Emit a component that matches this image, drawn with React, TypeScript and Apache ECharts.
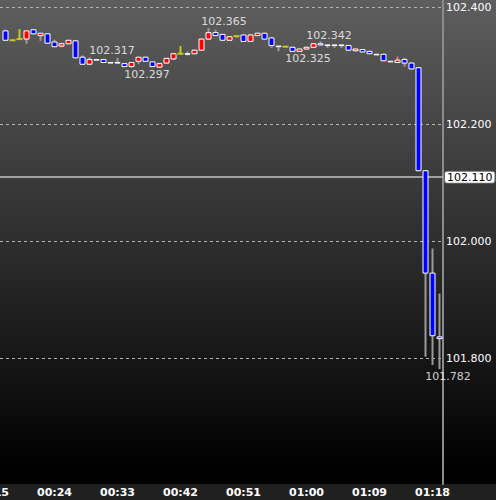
import React, { useEffect, useRef } from "react";
import * as echarts from "echarts";

const times = [
  "00:15", "00:16", "00:17", "00:18", "00:19", "00:20", "00:21", "00:22", "00:23", "00:24",
  "00:25", "00:26", "00:27", "00:28", "00:29", "00:30", "00:31", "00:32", "00:33", "00:34",
  "00:35", "00:36", "00:37", "00:38", "00:39", "00:40", "00:41", "00:42", "00:43", "00:44",
  "00:45", "00:46", "00:47", "00:48", "00:49", "00:50", "00:51", "00:52", "00:53", "00:54",
  "00:55", "00:56", "00:57", "00:58", "00:59", "01:00", "01:01", "01:02", "01:03", "01:04",
  "01:05", "01:06", "01:07", "01:08", "01:09", "01:10", "01:11", "01:12", "01:13", "01:14",
  "01:15", "01:16", "01:17", "01:18", "01:19",
];

// [time, open, close, low, high]
const candles: [string, number, number, number, number][] = [
  ["00:17", 102.36, 102.344, 102.343, 102.362],
  ["00:18", 102.344, 102.344, 102.343, 102.345],
  ["00:19", 102.346, 102.346, 102.345, 102.363],
  ["00:20", 102.346, 102.36, 102.338, 102.36],
  ["00:21", 102.362, 102.355, 102.354, 102.362],
  ["00:22", 102.352, 102.356, 102.343, 102.356],
  ["00:23", 102.355, 102.339, 102.338, 102.355],
  ["00:24", 102.341, 102.333, 102.332, 102.345],
  ["00:25", 102.334, 102.338, 102.332, 102.34],
  ["00:26", 102.338, 102.344, 102.337, 102.344],
  ["00:27", 102.343, 102.314, 102.313, 102.344],
  ["00:28", 102.315, 102.303, 102.302, 102.318],
  ["00:29", 102.303, 102.311, 102.302, 102.315],
  ["00:30", 102.31, 102.311, 102.31, 102.311],
  ["00:31", 102.311, 102.306, 102.305, 102.312],
  ["00:32", 102.306, 102.305, 102.305, 102.306],
  ["00:33", 102.306, 102.305, 102.304, 102.314],
  ["00:34", 102.304, 102.299, 102.298, 102.305],
  ["00:35", 102.299, 102.306, 102.297, 102.307],
  ["00:36", 102.308, 102.315, 102.303, 102.315],
  ["00:37", 102.315, 102.308, 102.307, 102.316],
  ["00:38", 102.307, 102.299, 102.298, 102.308],
  ["00:39", 102.298, 102.304, 102.297, 102.305],
  ["00:40", 102.305, 102.313, 102.304, 102.314],
  ["00:41", 102.312, 102.321, 102.311, 102.322],
  ["00:42", 102.321, 102.321, 102.32, 102.334],
  ["00:43", 102.321, 102.32, 102.318, 102.325],
  ["00:44", 102.321, 102.327, 102.32, 102.328],
  ["00:45", 102.327, 102.346, 102.326, 102.347],
  ["00:46", 102.346, 102.357, 102.345, 102.365],
  ["00:47", 102.357, 102.352, 102.351, 102.362],
  ["00:48", 102.354, 102.344, 102.343, 102.355],
  ["00:49", 102.344, 102.35, 102.343, 102.351],
  ["00:50", 102.351, 102.351, 102.349, 102.351],
  ["00:51", 102.353, 102.342, 102.341, 102.354],
  ["00:52", 102.342, 102.353, 102.341, 102.354],
  ["00:53", 102.352, 102.356, 102.351, 102.357],
  ["00:54", 102.356, 102.346, 102.345, 102.357],
  ["00:55", 102.348, 102.335, 102.331, 102.349],
  ["00:56", 102.334, 102.333, 102.325, 102.334],
  ["00:57", 102.333, 102.333, 102.333, 102.333],
  ["00:58", 102.332, 102.325, 102.325, 102.333],
  ["00:59", 102.325, 102.329, 102.325, 102.33],
  ["01:00", 102.329, 102.332, 102.328, 102.333],
  ["01:01", 102.332, 102.338, 102.331, 102.339],
  ["01:02", 102.338, 102.336, 102.335, 102.342],
  ["01:03", 102.336, 102.335, 102.331, 102.336],
  ["01:04", 102.336, 102.335, 102.331, 102.336],
  ["01:05", 102.336, 102.335, 102.331, 102.336],
  ["01:06", 102.335, 102.327, 102.326, 102.336],
  ["01:07", 102.326, 102.329, 102.325, 102.33],
  ["01:08", 102.328, 102.324, 102.323, 102.329],
  ["01:09", 102.325, 102.321, 102.32, 102.326],
  ["01:10", 102.32, 102.319, 102.319, 102.321],
  ["01:11", 102.32, 102.309, 102.308, 102.321],
  ["01:12", 102.308, 102.307, 102.307, 102.309],
  ["01:13", 102.306, 102.31, 102.305, 102.316],
  ["01:14", 102.311, 102.305, 102.299, 102.314],
  ["01:15", 102.305, 102.295, 102.294, 102.306],
  ["01:16", 102.297, 102.121, 102.12, 102.298],
  ["01:17", 102.121, 101.946, 101.803, 102.122],
  ["01:18", 101.946, 101.839, 101.789, 101.988],
  ["01:19", 101.837, 101.834, 101.782, 101.911],
];

const gridValues = [101.8, 102.0, 102.2, 102.4];
const currentPrice = 102.11;

const peakTimes = ["00:32", "00:37", "00:48", "01:00", "01:03", "01:19"];
const peakValues = [102.317, 102.297, 102.365, 102.325, 102.342, 101.782];
const peakSides = ["top", "bottom", "top", "bottom", "top", "bottom"];

const FONT = "DejaVu Sans";

export default function App() {
  const ref = useRef<HTMLDivElement>(null);
  useEffect(() => {
    if (!ref.current) return;
    const chart = echarts.init(ref.current, null, { renderer: "svg" });
    const candleSeriesData = candles.map((c) => [times.indexOf(c[0]), c[1], c[2], c[3], c[4]]);

    const option: any = {
      animation: false,
      backgroundColor: "transparent",
      grid: { left: -12, right: 53, top: 0, bottom: 16, containLabel: false, outerBoundsMode: "none" },
      xAxis: {
        type: "category",
        data: times,
        boundaryGap: true,
        axisLine: { show: false },
        axisTick: { show: false },
        splitLine: { show: false },
        axisLabel: {
          interval: (i: number) => i % 9 === 0,
          color: "#ffffff",
          fontFamily: FONT,
          fontSize: 11,
          fontWeight: "bold",
          margin: 3,
        },
      },
      yAxis: {
        type: "value",
        position: "right",
        min: 101.5855,
        max: 102.4128,
        splitLine: { show: false },
        axisTick: { show: false },
        axisLabel: { show: false },
        axisLine: { show: true, lineStyle: { color: "#8c8c8c", width: 2 } },
      },
      series: [
        {
          type: "scatter",
          z: 1,
          symbolSize: 1,
          itemStyle: { color: "transparent" },
          silent: true,
          data: peakTimes.map((t, i) => ({
            value: [t, peakValues[i]],
            label: {
              show: true,
              position: peakSides[i],
              distance: peakSides[i] === "top" ? 0 : 1,
              offset: [i === peakTimes.length - 1 ? 8.5 : 1.5, 0],
              formatter: peakValues[i].toFixed(3),
              color: "#ffffff",
              fontFamily: FONT,
              fontSize: 11,
            },
          })),
          markLine: {
            silent: true,
            symbol: ["none", "none"],
            animation: false,
            data: [
              ...gridValues.map((v) => ({
                yAxis: v,
                lineStyle: { color: "#b4b4b4", type: [3, 3], width: 1 },
                label: {
                  show: true,
                  position: "end",
                  distance: 3,
                  formatter: v.toFixed(3),
                  color: "#ffffff",
                  fontFamily: FONT,
                  fontSize: 11,
                },
              })),
              {
                yAxis: currentPrice,
                lineStyle: { color: "#c4c4c4", type: "solid", width: 1.5 },
                label: {
                  show: true,
                  position: "end",
                  distance: 2,
                  formatter: currentPrice.toFixed(3),
                  color: "#000000",
                  fontFamily: FONT,
                  fontSize: 11,
                  backgroundColor: "#ffffff",
                  borderColor: "#666666",
                  borderWidth: 1,
                  borderRadius: 2,
                  padding: [0, 2, 0, 2],
                  lineHeight: 11,
                },
              },
            ],
          },
        },
        {
          type: "custom",
          z: 5,
          silent: true,
          encode: { x: 0, y: [1, 2, 3, 4] },
          data: candleSeriesData,
          renderItem: (params: any, api: any) => {
            const idx = api.value(0);
            const o = api.value(1);
            const c = api.value(2);
            const l = api.value(3);
            const h = api.value(4);
            const po = api.coord([idx, o]);
            const pc = api.coord([idx, c]);
            const pl = api.coord([idx, l]);
            const ph = api.coord([idx, h]);
            const x = po[0];
            const children: any[] = [];
            if (o === c) {
              const yel = "#c8c81e";
              if (pl[1] - ph[1] > 0.5) {
                children.push({
                  type: "line",
                  shape: { x1: x, y1: ph[1], x2: x, y2: pl[1] },
                  style: { stroke: yel, lineWidth: 2 },
                });
              }
              children.push({
                type: "line",
                shape: { x1: x - 3, y1: po[1], x2: x + 3, y2: po[1] },
                style: { stroke: yel, lineWidth: 2 },
              });
            } else {
              children.push({
                type: "line",
                shape: { x1: x, y1: ph[1], x2: x, y2: pl[1] },
                style: { stroke: "#9a9a9a", lineWidth: 2 },
              });
              const top = Math.min(po[1], pc[1]);
              const hgt = Math.abs(po[1] - pc[1]);
              children.push({
                type: "rect",
                shape: { x: x - 2.5, y: top, width: 5, height: hgt },
                style: { fill: c > o ? "#ff0000" : "#0000ff", stroke: "#ffffff", lineWidth: 1 },
              });
            }
            return { type: "group", children };
          },
        },
      ],
    };
    chart.setOption(option);
    return () => chart.dispose();
  }, []);

  return (
    <div
      ref={ref}
      style={{
        position: "fixed",
        left: 0,
        top: 0,
        width: 496,
        height: 500,
        background:
          "linear-gradient(to bottom, #5e5e5e 0px, #000000 470px, #000000 484px, #202020 484px, #202020 500px)",
      }}
    />
  );
}
